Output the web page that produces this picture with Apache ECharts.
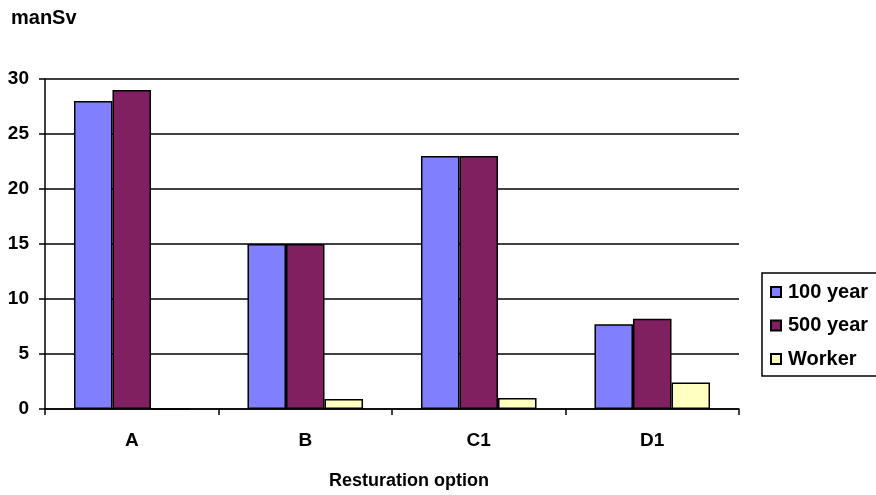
<!DOCTYPE html>
<html><head><meta charset="utf-8">
<script src="https://cdn.jsdelivr.net/npm/echarts@6/dist/echarts.min.js"></script>
<style>html,body{margin:0;padding:0;background:#fff}#c{width:876px;height:495px}</style>
</head><body><div id="c"></div>
<script>
const categories = ['A', 'B', 'C1', 'D1'];
const year100 = [28, 15, 23, 7.7];
const year500 = [29, 15, 23, 8.2];
const worker = [0, 0.9, 1.0, 2.4];
const yTicks = [0, 5, 10, 15, 20, 25, 30];

const font = '"Liberation Sans", Arial, sans-serif';
const chart = echarts.init(document.getElementById('c'));
const barStyle = c => ({ color: c, borderColor: '#000', borderWidth: 1.5 });
const txt = (s) => ({ fontFamily: font, fontWeight: 'bold', fontSize: s, color: '#000' });
chart.setOption({
  animation: false,
  backgroundColor: '#fff',
  title: { text: 'manSv', left: 11, top: 8, padding: 0, textStyle: txt(20) },
  grid: { left: 45, right: 137, top: 79, bottom: 86, containLabel: false, outerBoundsMode: 'none' },
  legend: {
    orient: 'vertical', left: 762, top: 273,
    borderColor: '#000', borderWidth: 1.5,
    padding: [9, 40, 7, 8],
    itemWidth: 10, itemHeight: 10, itemGap: 13.5,
    icon: 'rect',
    textStyle: Object.assign(txt(20), { lineHeight: 20, padding: [0, 0, 0, 2] }),
    data: ['100 year', '500 year', 'Worker']
  },
  xAxis: {
    type: 'category', data: categories,
    name: 'Resturation option', nameLocation: 'middle', nameGap: 63,
    nameTextStyle: Object.assign(txt(18), { padding: [0, 0, 0, 34] }),
    axisLine: { lineStyle: { color: '#000', width: 1.5 } },
    axisTick: { show: true, length: 6, lineStyle: { color: '#000', width: 1.5 } },
    axisLabel: Object.assign(txt(19), { margin: 22 })
  },
  yAxis: {
    type: 'value', min: yTicks[0], max: yTicks[yTicks.length - 1], interval: 5,
    axisLine: { show: true, lineStyle: { color: '#000', width: 1.5 } },
    axisTick: { show: true, length: 6, lineStyle: { color: '#000', width: 1.5 } },
    splitLine: { lineStyle: { color: '#000', width: 1.5 } },
    axisLabel: Object.assign(txt(19), { margin: 16 })
  },
  series: [
    { name: '100 year', type: 'bar', data: year100, itemStyle: barStyle('#8080ff'), barGap: '0%', barCategoryGap: '33.4%' },
    { name: '500 year', type: 'bar', data: year500, itemStyle: barStyle('#802060'), barGap: '0%', barCategoryGap: '33.4%' },
    { name: 'Worker', type: 'bar', data: worker, itemStyle: barStyle('#ffffc0'), barGap: '0%', barCategoryGap: '33.4%' }
  ]
});
</script></body></html>
